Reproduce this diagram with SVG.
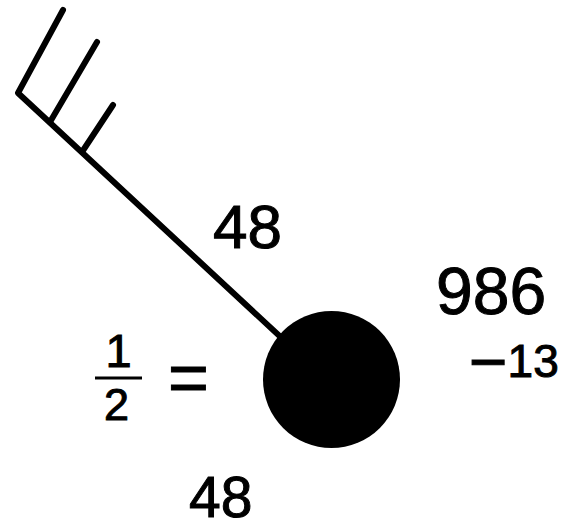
<svg xmlns="http://www.w3.org/2000/svg" width="577" height="530" viewBox="0 0 577 530">
<style>
.ln{stroke:#000;stroke-width:6;stroke-linecap:round;stroke-linejoin:round;fill:none}
.t{font-family:"Liberation Sans",Arial,sans-serif;fill:#000;stroke:#000;stroke-width:1}
</style>
<rect width="577" height="530" fill="#fff"/>
<g id="wind-barb">
<path class="ln" d="M63,10 L18,93 L300,355"/>
<path class="ln" d="M50,122 L97,42"/>
<path class="ln" d="M82,152 L113,105"/>
</g>
<g id="station">
<circle cx="331.5" cy="379.5" r="68.5" fill="#000"/>
</g>
<g id="labels">
<text class="t" x="189" y="517" font-size="57">48</text>
<text class="t" x="213" y="248" font-size="62">48</text>
<text class="t" x="436" y="314" font-size="66">986</text>
<text class="t" x="469" y="377"><tspan font-size="66" y="384">−</tspan><tspan font-size="46" y="377">13</tspan></text>
<text class="t" x="105.5" y="367" font-size="47">1</text>
<line x1="95" y1="378" x2="142" y2="378" stroke="#000" stroke-width="3"/>
<text class="t" x="104" y="420" font-size="45">2</text>
<text class="t" x="168" y="402" font-size="70">=</text>
</g>
</svg>
